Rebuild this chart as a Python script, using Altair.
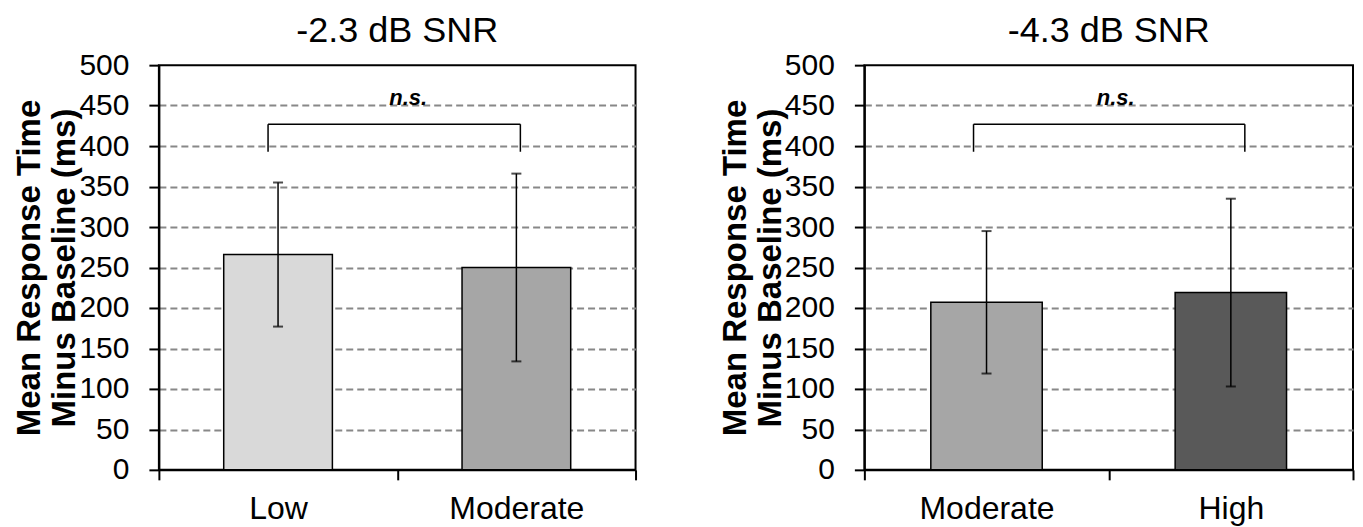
import altair as alt
import pandas as pd

panel_titles = ["-2.3 dB SNR", "-4.3 dB SNR"]
left_categories = ["Low", "Moderate"]
left_means = [266, 250]
left_errors = [89, 116]
right_categories = ["Moderate", "High"]
right_means = [207, 219]
right_errors = [88, 116]
level_names = ["Low", "Moderate", "High"]
level_colors = ["#d9d9d9", "#a6a6a6", "#595959"]
y_ticks = list(range(0, 501, 50))
bracket_top = 427
bracket_bottom = 393
ns_label = "n.s."
ns_y = 450
y_title = ["Mean Response Time", "Minus Baseline (ms)"]

FONT = "Liberation Sans"

grid_cond = {"condition": {"test": "datum.value === 0 || datum.value === 500", "value": 0}, "value": 1}


def panel(title, cats, means, errs, width, left_off, right_off, ns_dx):
    df = pd.DataFrame({
        "cat": cats,
        "mean": means,
        "lo": [m - e for m, e in zip(means, errs)],
        "hi": [m + e for m, e in zip(means, errs)],
    })
    dfb = pd.DataFrame({"a": [cats[0]], "b": [cats[1]], "top": [bracket_top],
                        "bottom": [bracket_bottom], "ns": [ns_y], "lab": [ns_label]})

    xaxis = alt.Axis(title=None, labelAngle=0, labelFontSize=32, labelFont=FONT,
                     labelColor="black", labelPadding=14, tickBand="extent", tickSize=10,
                     tickWidth=2, tickColor="black", domainColor="black", domainWidth=2,
                     grid=False)
    xscale = alt.Scale(domain=cats, paddingInner=0, paddingOuter=0)
    yaxis = alt.Axis(values=y_ticks, title=y_title, titleFontSize=33, titleFont=FONT,
                     titleFontWeight="bold", titleColor="black", titleLineHeight=35,
                     titleX=-112, titleBaseline="bottom",
                     labelFontSize=30, labelFont=FONT, labelColor="black", labelPadding=20,
                     tickSize=10, tickWidth=2, tickColor="black", domainColor="black",
                     domainWidth=2, gridDash=[7, 4], gridColor="#888888", gridWidth=2,
                     gridOpacity=grid_cond)
    yscale = alt.Scale(domain=[0, 500], nice=False)

    def X(field, **kw):
        return alt.X(field, scale=xscale, axis=xaxis, **kw)

    def Y(field):
        return alt.Y(field, scale=yscale, axis=yaxis)

    base = alt.Chart(df)
    bars = base.mark_bar(width=alt.RelativeBandSize(0.456), stroke="black", strokeWidth=1.5).encode(
        x=X("cat:N"),
        y=Y("mean:Q"),
        color=alt.Color("cat:N", scale=alt.Scale(domain=level_names, range=level_colors), legend=None),
    )
    err = base.mark_rule(color="black", strokeWidth=1.5).encode(
        x=X("cat:N"), y=Y("lo:Q"), y2="hi:Q")
    cap_hi = base.mark_tick(color="black", size=10, thickness=2).encode(
        x=X("cat:N"), y=Y("hi:Q"))
    cap_lo = base.mark_tick(color="black", size=10, thickness=2).encode(
        x=X("cat:N"), y=Y("lo:Q"))

    bch = alt.Chart(dfb)
    horiz = bch.mark_rule(color="black", strokeWidth=1.5, xOffset=left_off, x2Offset=right_off).encode(
        x=X("a:N"), x2="b:N", y=Y("top:Q"))
    leg_l = bch.mark_rule(color="black", strokeWidth=1.5, xOffset=left_off).encode(
        x=X("a:N"), y=Y("bottom:Q"), y2="top:Q")
    leg_r = bch.mark_rule(color="black", strokeWidth=1.5, xOffset=right_off).encode(
        x=X("b:N"), y=Y("bottom:Q"), y2="top:Q")
    ns = bch.mark_text(fontStyle="italic", fontWeight="bold", fontSize=22, font=FONT,
                       baseline="alphabetic", dx=ns_dx, dy=-1, color="black").encode(
        x=X("a:N", bandPosition=1), y=Y("ns:Q"), text="lab:N")

    return alt.layer(bars, err, cap_hi, cap_lo, horiz, leg_l, leg_r, ns).properties(
        width=width, height=405,
        view=alt.ViewBackground(stroke="black", strokeWidth=2),
        title=alt.TitleParams(text=title, fontSize=36, font=FONT, fontWeight="normal",
                              color="black", offset=0, anchor="middle"),
    )


left = panel(panel_titles[0], left_categories, left_means, left_errors, 477, -10, 4, 11)
right = panel(panel_titles[1], right_categories, right_means, right_errors, 489, -13, 14, 7)

chart = alt.hconcat(left, right, spacing=80).properties(
    padding={"left": 4, "top": 4, "right": 0, "bottom": 0}
).configure_view(stroke="black", strokeWidth=2).configure(background="white")

chart.save("out.html", embed_options={"renderer": "svg", "actions": False})
